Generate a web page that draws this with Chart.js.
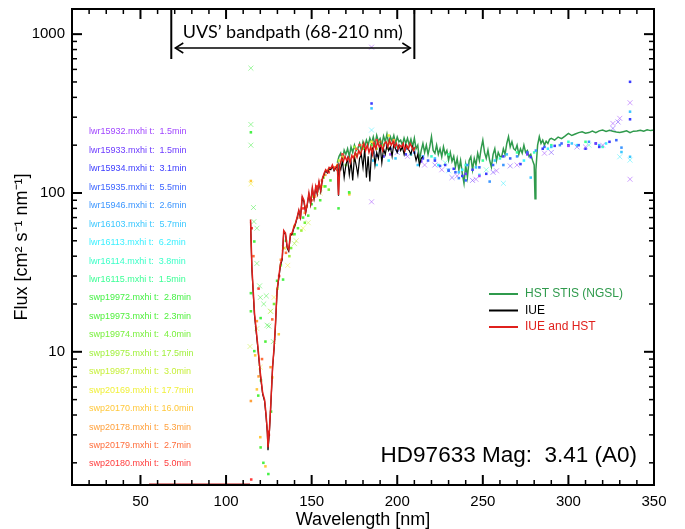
<!DOCTYPE html>
<html><head><meta charset="utf-8">
<script src="https://cdn.jsdelivr.net/npm/chart.js@4"></script>
<style>html,body{margin:0;padding:0;background:#fff;overflow:hidden}</style>
</head><body>
<canvas id="c" width="685" height="529"></canvas>
<script>
// ---------------- DATA ----------------
const xTickValues = [50, 100, 150, 200, 250, 300, 350];
const yTickValues = [10, 100, 1000];
const bandEdges = [68, 210];
const bandLabel = 'UVS\u2019 bandpath (68-210 nm)';
const starLabel = 'HD97633 Mag:  3.41 (A0)';

// IUE and HST combined (red)
const comboNm = [114.3,115.1,116.6,118.6,120.0,121.4,122.5,123.3,124.1,124.5,125.3,126.1,127.2,128.1,128.8,129.8,130.8,131.8,132.8,133.7,134.7,135.7,136.6,137.6,138.6,139.6,140.6,141.6,142.5,143.5,144.5,145.5,146.5,147.5,148.4,149.4,150.4,151.4,152.4,153.3,154.3,155.3,156.3,157.3,158.2,159.2,160.2,161.2,162.1,163.1,164.1,165.0,165.7,166.5,167.5,168.5,169.5,170.5,171.5,172.5,173.5,174.5,175.5,176.5,177.5,178.5,179.5,180.5,181.5,182.5,183.5,184.5,185.5,186.5,187.5,188.5,189.5,190.5,191.5,192.5,193.5,194.5,195.5,196.5,197.5,198.5,199.5,200.5,201.5,202.5,203.5,204.5,205.5,206.5,207.5,208.5,209.5,210.5];
const comboFlux = [68,34,17.6,10.8,7.4,5.5,5.0,4.1,3.2,2.5,3.2,4.6,8.1,10.8,14.4,24.5,29.6,36,39,58,56,46,44,55,56,61,65,71,78,71,95,90,76,86,100,86,108,93,110,100,118,104,124,133,140,136,145,143,150,140,146,150,97,150,165,158,170,160,168,155,172,165,180,168,185,175,190,205,185,200,180,195,175,205,190,210,195,200,185,205,210,195,215,200,210,195,205,190,200,195,205,185,200,190,205,195,185,195];
const comboLowNm = [55, 114];
const comboLowFlux = [1.46, 1.46];

// IUE (black)
const iueNm = [114.3,115.1,116.6,118.6,120.0,121.4,122.5,123.3,124.1,124.5,125.3,126.1,127.2,128.1,128.8,129.8,130.8,131.8,132.8,133.7,134.7,135.7,136.6,137.6,138.6,139.6,140.6,141.6,142.5,143.5,144.5,145.5,146.5,147.5,148.4,149.4,150.4,151.4,152.4,153.3,154.3,155.3,156.3,157.3,158.2,159.2,160.2,161.2,162.1,163.1,164.1,165.0,165.7,166,167,168,169,170,171,172,173,174,175,176,177,178,179,180,181,182,183,184,185,186,187,188,189,190,191,192,193,194,195,196,197,198,199,200,201,202,203,204,205,206,207,208,209,210,211,212,213,214,215];
const iueFlux = [66,33,17,10.5,7.2,5.4,4.9,4.0,3.1,2.4,3.1,4.5,8.0,10.6,14.2,24,29,35,38,57,55,45,43,54,55,60,64,70,77,70,93,88,75,85,98,85,106,92,108,98,116,102,122,131,138,134,142,140,147,138,144,148,96,150,140,160,125,150,165,130,158,120,170,150,130,165,175,145,190,125,170,118,185,195,150,180,165,200,155,190,175,200,185,195,170,205,190,180,200,185,195,175,200,190,185,175,195,180,160,175,150,165,170];

// HST STIS (NGSL) (green)
const stisData = [[165,155],[166,170],[167,178],[168,160],[169,186],[170,175],[171,190],[172,170],[173,195],[174,180],[175,200],[176,185],[177,191],[178,205],[179,185],[180,210],[181,195],[182,215],[183,200],[184,221],[185,205],[186,225],[187,200],[188,230],[189,210],[190,220],[191,200],[192,228],[193,210],[194,235],[195,205],[196,226],[197,212],[198,230],[199,205],[200,225],[201,210],[202,215],[203,200],[204,222],[205,205],[206,221],[207,200],[208,218],[209,195],[210,221],[211,190],[212,200],[213,161],[214,185],[215,205],[216,180],[217,200],[218,175],[219,195],[220,226],[221,185],[222,178],[223,200],[224,175],[225,190],[226,169],[227,195],[228,175],[229,185],[230,161],[231,180],[232,158],[233,170],[234,146],[235,165],[236,140],[237,160],[238,133],[239,115],[240,150],[241,126],[242,160],[243,169],[244,140],[245,165],[246,150],[247,178],[248,160],[249,190],[250,215],[251,180],[252,165],[253,186],[254,160],[255,146],[256,175],[257,190],[258,160],[259,180],[260,170],[261,169],[262,190],[263,175],[264,205],[265,226],[266,195],[267,210],[268,190],[269,186],[270,200],[271,175],[272,190],[273,178],[274,200],[275,180],[276,185],[277,170],[278,175],[279,161],[280,150],[280.5,92],[281,140],[282,200],[283,226],[284,205],[285,215],[286,200],[287,212],[288,205],[289,218],[290,221],[292,215],[294,225],[296,220],[298,228],[300,237],[302,230],[304,235],[306,240],[308,243],[310,238],[312,240],[314,245],[316,240],[318,246],[320,249],[322,244],[324,248],[326,245],[328,242],[330,240],[332,243],[334,246],[336,240],[338,245],[340,246],[342,248],[344,245],[346,250],[348,247],[350,249]];

// Individual IUE spectra
const specNames = ['lwr15932','lwr15933','lwr15934','lwr15935','lwr15946','lwr16103','lwr16113','lwr16114','lwr16115','swp19972','swp19973','swp19974','swp19975','swp19987','swp20169','swp20170','swp20178','swp20179','swp20180'];
const specTimes = [1.5,1.5,3.1,5.5,2.6,5.7,6.2,3.8,1.5,2.8,2.3,4.0,17.5,3.0,17.7,16.0,5.3,2.7,5.0];

const lwr15932Dots = [[196,175],[248,128],[300,198]];
const lwr15932Cross = [[185,828],[185,88],[336,370],[336,122],[326,274],[330,295],[206,170],[216,150],[226,140],[235,128],[246,122],[258,138],[270,150],[286,178],[310,195],[320,200]];
const lwr15933Dots = [[192,170],[214,158],[240,132],[276,175],[316,205]];
const lwr15933Cross = [[200,180],[222,150],[232,125],[244,120],[256,135],[266,148],[290,180],[305,195],[326,255],[329,280]];
const lwr15934Dots = [[185,366],[336,501],[336,291],[188,172],[196,190],[205,175],[215,165],[222,160],[228,150],[233,142],[238,128],[244,140],[252,132],[262,170],[272,152],[278,168],[285,190],[292,198],[300,200],[310,190],[318,195],[324,210]];
const lwr15934Cross = [];
const lwr15935Dots = [[190,190],[200,185],[210,180],[218,160],[225,148],[230,138],[234,135],[240,120],[248,145],[256,150],[266,165],[276,180],[286,195],[296,205],[306,200],[316,205],[328,215]];
const lwr15935Cross = [];
const lwr15946Dots = [[186,180],[194,200],[205,190],[215,170],[230,140],[236,124],[241,150],[254,118],[262,150],[270,170],[281,185],[295,200],[312,210],[331,193]];
const lwr15946Cross = [];
const lwr16103Dots = [[185,341],[186,160],[192,170],[199,165],[212,150],[222,165],[236,135],[246,145],[257,160],[264,175],[278,125],[290,195],[302,205],[318,200],[331,181],[336,325],[336,169]];
const lwr16103Cross = [];
const lwr16113Dots = [[188,150],[195,160],[208,175],[224,150],[238,140],[248,130],[274,160],[288,190],[305,200],[322,205]];
const lwr16113Cross = [[185,249],[262,115],[230,138],[330,169],[336,161]];
const lwr16114Dots = [[200,195],[220,170],[240,150],[260,165],[280,180],[300,210],[320,195]];
const lwr16114Cross = [[228,155],[252,140],[312,200]];
const lwr16115Dots = [[210,190],[230,175],[250,160],[270,180],[290,200],[310,210]];
const lwr16115Cross = [];
const swp19972Dots = [[114.5,241],[114.5,23.4],[116.5,49.5],[116.5,10.1],[120.2,16.3],[120.4,6.6],[121.8,2.0],[124.7,1.7],[129.8,28],[133.3,28.5],[140,55],[145,70],[150,85],[158,110],[165.7,80],[171.9,101],[180,195]];
const swp19972Cross = [[114.5,611],[114.5,270],[114.5,200],[116,81],[116.3,66],[118,60],[118,36],[119.6,26],[120,22],[122,20],[123.5,22.5],[124,14.7],[125,14.5],[127.6,11.6]];
const swp19973Dots = [[114.5,18],[118.8,5.3],[120.2,2.5],[123,11.6],[126.3,4.2],[135,50],[142,60],[148,72],[155,90],[161,120],[168,160],[176,175],[185,200],[195,190]];
const swp19973Cross = [];
const swp19974Dots = [[128,20],[132,35],[138,45],[146,65],[152,80],[160,105],[170,150],[180,190],[192,200]];
const swp19974Cross = [];
const swp19975Dots = [[130,25],[137,40],[144,58],[151,95],[157,125],[172,100],[175,195],[188,190]];
const swp19975Cross = [[126,18],[140,48]];
const swp19987Dots = [[157,110],[166,160],[178,180]];
const swp19987Cross = [[114,10.8],[118,14],[126,18],[134,45],[141,50],[148,65]];
const swp20169Dots = [[165,150],[175,170],[185,210],[195,230]];
const swp20169Cross = [[114.5,114],[120,8],[128,22],[136,35],[145,60],[155,100]];
const swp20170Dots = [[114.5,119],[117,9.5],[118,5.8],[120,2.9],[123,1.9],[127,6.9],[130.8,12.9],[134,45],[140,62],[147,82],[153,105],[160,140],[168,168],[172,98],[175,160],[185,190],[195,205]];
const swp20170Cross = [];
const swp20178Dots = [[114.5,4.9],[118,15.6],[119,7.0],[126,8],[132,38],[139,55],[146,75],[152,95],[158,130],[163,145],[180,200],[190,210],[198,215]];
const swp20178Cross = [];
const swp20179Dots = [[116,40],[121,9],[127,16],[135,42],[143,70],[150,90],[156,120],[165,140],[176,190],[186,205]];
const swp20179Cross = [];
const swp20180Dots = [[114.7,1.57],[115,60],[119,25],[125,3],[131,30],[138,55],[145,80],[153,110],[160,135],[168,175],[178,200],[188,215],[198,210]];
const swp20180Cross = [];

const specDots = [lwr15932Dots,lwr15933Dots,lwr15934Dots,lwr15935Dots,lwr15946Dots,lwr16103Dots,lwr16113Dots,lwr16114Dots,lwr16115Dots,swp19972Dots,swp19973Dots,swp19974Dots,swp19975Dots,swp19987Dots,swp20169Dots,swp20170Dots,swp20178Dots,swp20179Dots,swp20180Dots];
const specCross = [lwr15932Cross,lwr15933Cross,lwr15934Cross,lwr15935Cross,lwr15946Cross,lwr16103Cross,lwr16113Cross,lwr16114Cross,lwr16115Cross,swp19972Cross,swp19973Cross,swp19974Cross,swp19975Cross,swp19987Cross,swp20169Cross,swp20170Cross,swp20178Cross,swp20179Cross,swp20180Cross];

// ---------------- STYLE ----------------
const specColors = ['#a046ff','#6e3cff','#3c3cff','#3c64ff','#3c96ff','#3cc8ff','#3cf0ff','#3cffc8','#3cff96','#46f046','#50f03c','#78f03c','#a0f03c','#c8f03c','#f0f03c','#ffc83c','#ffa03c','#ff6e3c','#ff3c3c'];
const FONT = '"Liberation Sans", Arial, Helvetica, sans-serif';

function pts(nm, fl) { return nm.map((v, i) => ({x: v, y: fl[i]})); }
function pairPts(arr) { return arr.map(p => ({x: p[0], y: p[1]})); }
function alpha(hex, a) {
  const n = parseInt(hex.slice(1), 16);
  return `rgba(${(n>>16)&255},${(n>>8)&255},${n&255},${a})`;
}

const datasets = [
  {label: 'HST STIS (NGSL)', data: pairPts(stisData), showLine: true, borderColor: '#2f9a4c', borderWidth: 1.5, pointRadius: 0, order: 4, legend: true},
  {label: 'IUE', data: pts(iueNm, iueFlux), showLine: true, borderColor: '#000000', borderWidth: 1.2, pointRadius: 0, order: 1, legend: true},
  {label: 'IUE and HST', data: pts(comboNm, comboFlux), showLine: true, borderColor: '#e0201c', borderWidth: 1.5, pointRadius: 0, order: 0, legend: true},
  {label: 'low', data: pts(comboLowNm, comboLowFlux), showLine: true, borderColor: '#c01818', borderWidth: 2, pointRadius: 0, order: 0},
];
specNames.forEach((n, i) => {
  datasets.push({label: n + ' dots', data: pairPts(specDots[i]), showLine: false, pointStyle: 'rect', pointRadius: 1.8, pointBorderWidth: 0, backgroundColor: specColors[i], borderColor: specColors[i], order: 3});
  datasets.push({label: n + ' cross', data: pairPts(specCross[i]), showLine: false, pointStyle: 'crossRot', pointRadius: 3.5, pointBorderWidth: 1, backgroundColor: alpha(specColors[i], 0.5), borderColor: alpha(specColors[i], 0.5), order: 3});
});

const overlay = {
  id: 'overlay',
  afterDatasetsDraw(chart) {
    const {ctx, chartArea: a, scales: {x, y}} = chart;
    ctx.save();
    const line = (x1, y1, x2, y2) => { ctx.beginPath(); ctx.moveTo(x1, y1); ctx.lineTo(x2, y2); ctx.stroke(); };
    ctx.strokeStyle = '#000';
    // x ticks (minor every 10, major every 50)
    for (let v = 10; v <= 350; v += 10) {
      const px = x.getPixelForValue(v);
      const major = v % 50 === 0;
      ctx.lineWidth = major ? 2 : 1.5;
      const len = major ? 10 : 5;
      line(px, a.bottom, px, a.bottom - len);
      line(px, a.top, px, a.top + len);
    }
    // y ticks (log)
    for (let d = 1; d <= 1000; d *= 10) {
      for (let m = 1; m <= 9; m++) {
        const v = d * m;
        if (v < y.min || v > y.max) continue;
        const py = y.getPixelForValue(v);
        const major = m === 1;
        ctx.lineWidth = major ? 2 : 1.5;
        const len = major ? 10 : 5;
        line(a.left, py, a.left + len, py);
        line(a.right, py, a.right - len, py);
      }
    }
    // frame
    ctx.lineWidth = 2;
    ctx.strokeRect(a.left, a.top, a.right - a.left, a.bottom - a.top);

    // bandpath annotation
    const x1 = x.getPixelForValue(bandEdges[0]);
    const x2 = x.getPixelForValue(bandEdges[1]);
    ctx.lineWidth = 2;
    line(x1, a.top, x1, a.top + 50);
    line(x2, a.top, x2, a.top + 50);
    const ay = a.top + 39;
    ctx.lineWidth = 1.5;
    line(x1 + 4, ay, x2 - 4, ay);
    ctx.beginPath(); ctx.moveTo(x1 + 12, ay - 5); ctx.lineTo(x1 + 4, ay); ctx.lineTo(x1 + 12, ay + 5); ctx.stroke();
    ctx.beginPath(); ctx.moveTo(x2 - 12, ay - 5); ctx.lineTo(x2 - 4, ay); ctx.lineTo(x2 - 12, ay + 5); ctx.stroke();
    ctx.fillStyle = '#000';
    ctx.font = '18px Lato, "Open Sans", sans-serif';
    ctx.textAlign = 'center'; ctx.textBaseline = 'middle';
    ctx.fillText(bandLabel, (x1 + x2) / 2, a.top + 23);

    // spectra list
    ctx.font = '9px ' + FONT;
    ctx.textAlign = 'left'; ctx.textBaseline = 'middle';
    specNames.forEach((n, i) => {
      ctx.fillStyle = specColors[i];
      const t = specTimes[i].toFixed(1).padStart(4, ' ');
      ctx.fillText(`${n}.mxhi t: ${t}min`, a.left + 17, a.top + 123 + i * 18.44);
    });

    // legend (bottom right)
    ctx.font = '12px ' + FONT;
    const legendSets = chart.data.datasets.filter(d => d.legend);
    legendSets.forEach((d, i) => {
      const ly = a.top + 285 + i * 16.5;
      ctx.strokeStyle = d.borderColor; ctx.lineWidth = 2;
      line(a.left + 417, ly, a.left + 446, ly);
      ctx.fillStyle = d.borderColor;
      ctx.fillText(d.label, a.left + 453, ly);
    });

    // star label
    ctx.fillStyle = '#000';
    ctx.font = '22.5px ' + FONT;
    ctx.textAlign = 'right'; ctx.textBaseline = 'alphabetic';
    ctx.fillText(starLabel, a.right - 17, a.bottom - 23);
    ctx.restore();
  }
};

new Chart(document.getElementById('c'), {
  type: 'scatter',
  data: {datasets},
  options: {
    responsive: false,
    animation: false,
    devicePixelRatio: 1,
    layout: {padding: {left: 0, right: 31, top: 9, bottom: 0}},
    plugins: {legend: {display: false}, tooltip: {enabled: false}},
    scales: {
      x: {
        type: 'linear', min: 10, max: 350,
        afterFit(s) { s.height = 44; s.paddingLeft = 0; s.paddingRight = 0; },
        grid: {display: false, drawTicks: false, tickLength: 0},
        border: {display: false},
        ticks: {stepSize: 50, autoSkip: false, maxRotation: 0, padding: 8, color: '#000',
          font: {family: FONT, size: 15},
          callback: v => xTickValues.includes(v) ? String(v) : ''},
        title: {display: true, text: 'Wavelength [nm]', color: '#000', font: {family: FONT, size: 18}, padding: {top: 0, bottom: -2}}
      },
      y: {
        type: 'logarithmic', min: 1.45, max: 1440,
        afterFit(s) { s.width = 72; s.paddingTop = 0; s.paddingBottom = 0; },
        grid: {display: false, drawTicks: false, tickLength: 0},
        border: {display: false},
        ticks: {autoSkip: false, padding: 7, color: '#000',
          font: {family: FONT, size: 15},
          callback: v => yTickValues.includes(Math.round(v)) && Math.abs(v - Math.round(v)) < 1e-6 ? String(Math.round(v)) : ''},
        title: {display: true, text: 'Flux [cm\u00B2 s\u207B\u00B9 nm\u207B\u00B9]', color: '#000', font: {family: FONT, size: 18}, padding: {top: 11, bottom: 0}}
      }
    }
  },
  plugins: [overlay]
});
</script>
</body></html>
